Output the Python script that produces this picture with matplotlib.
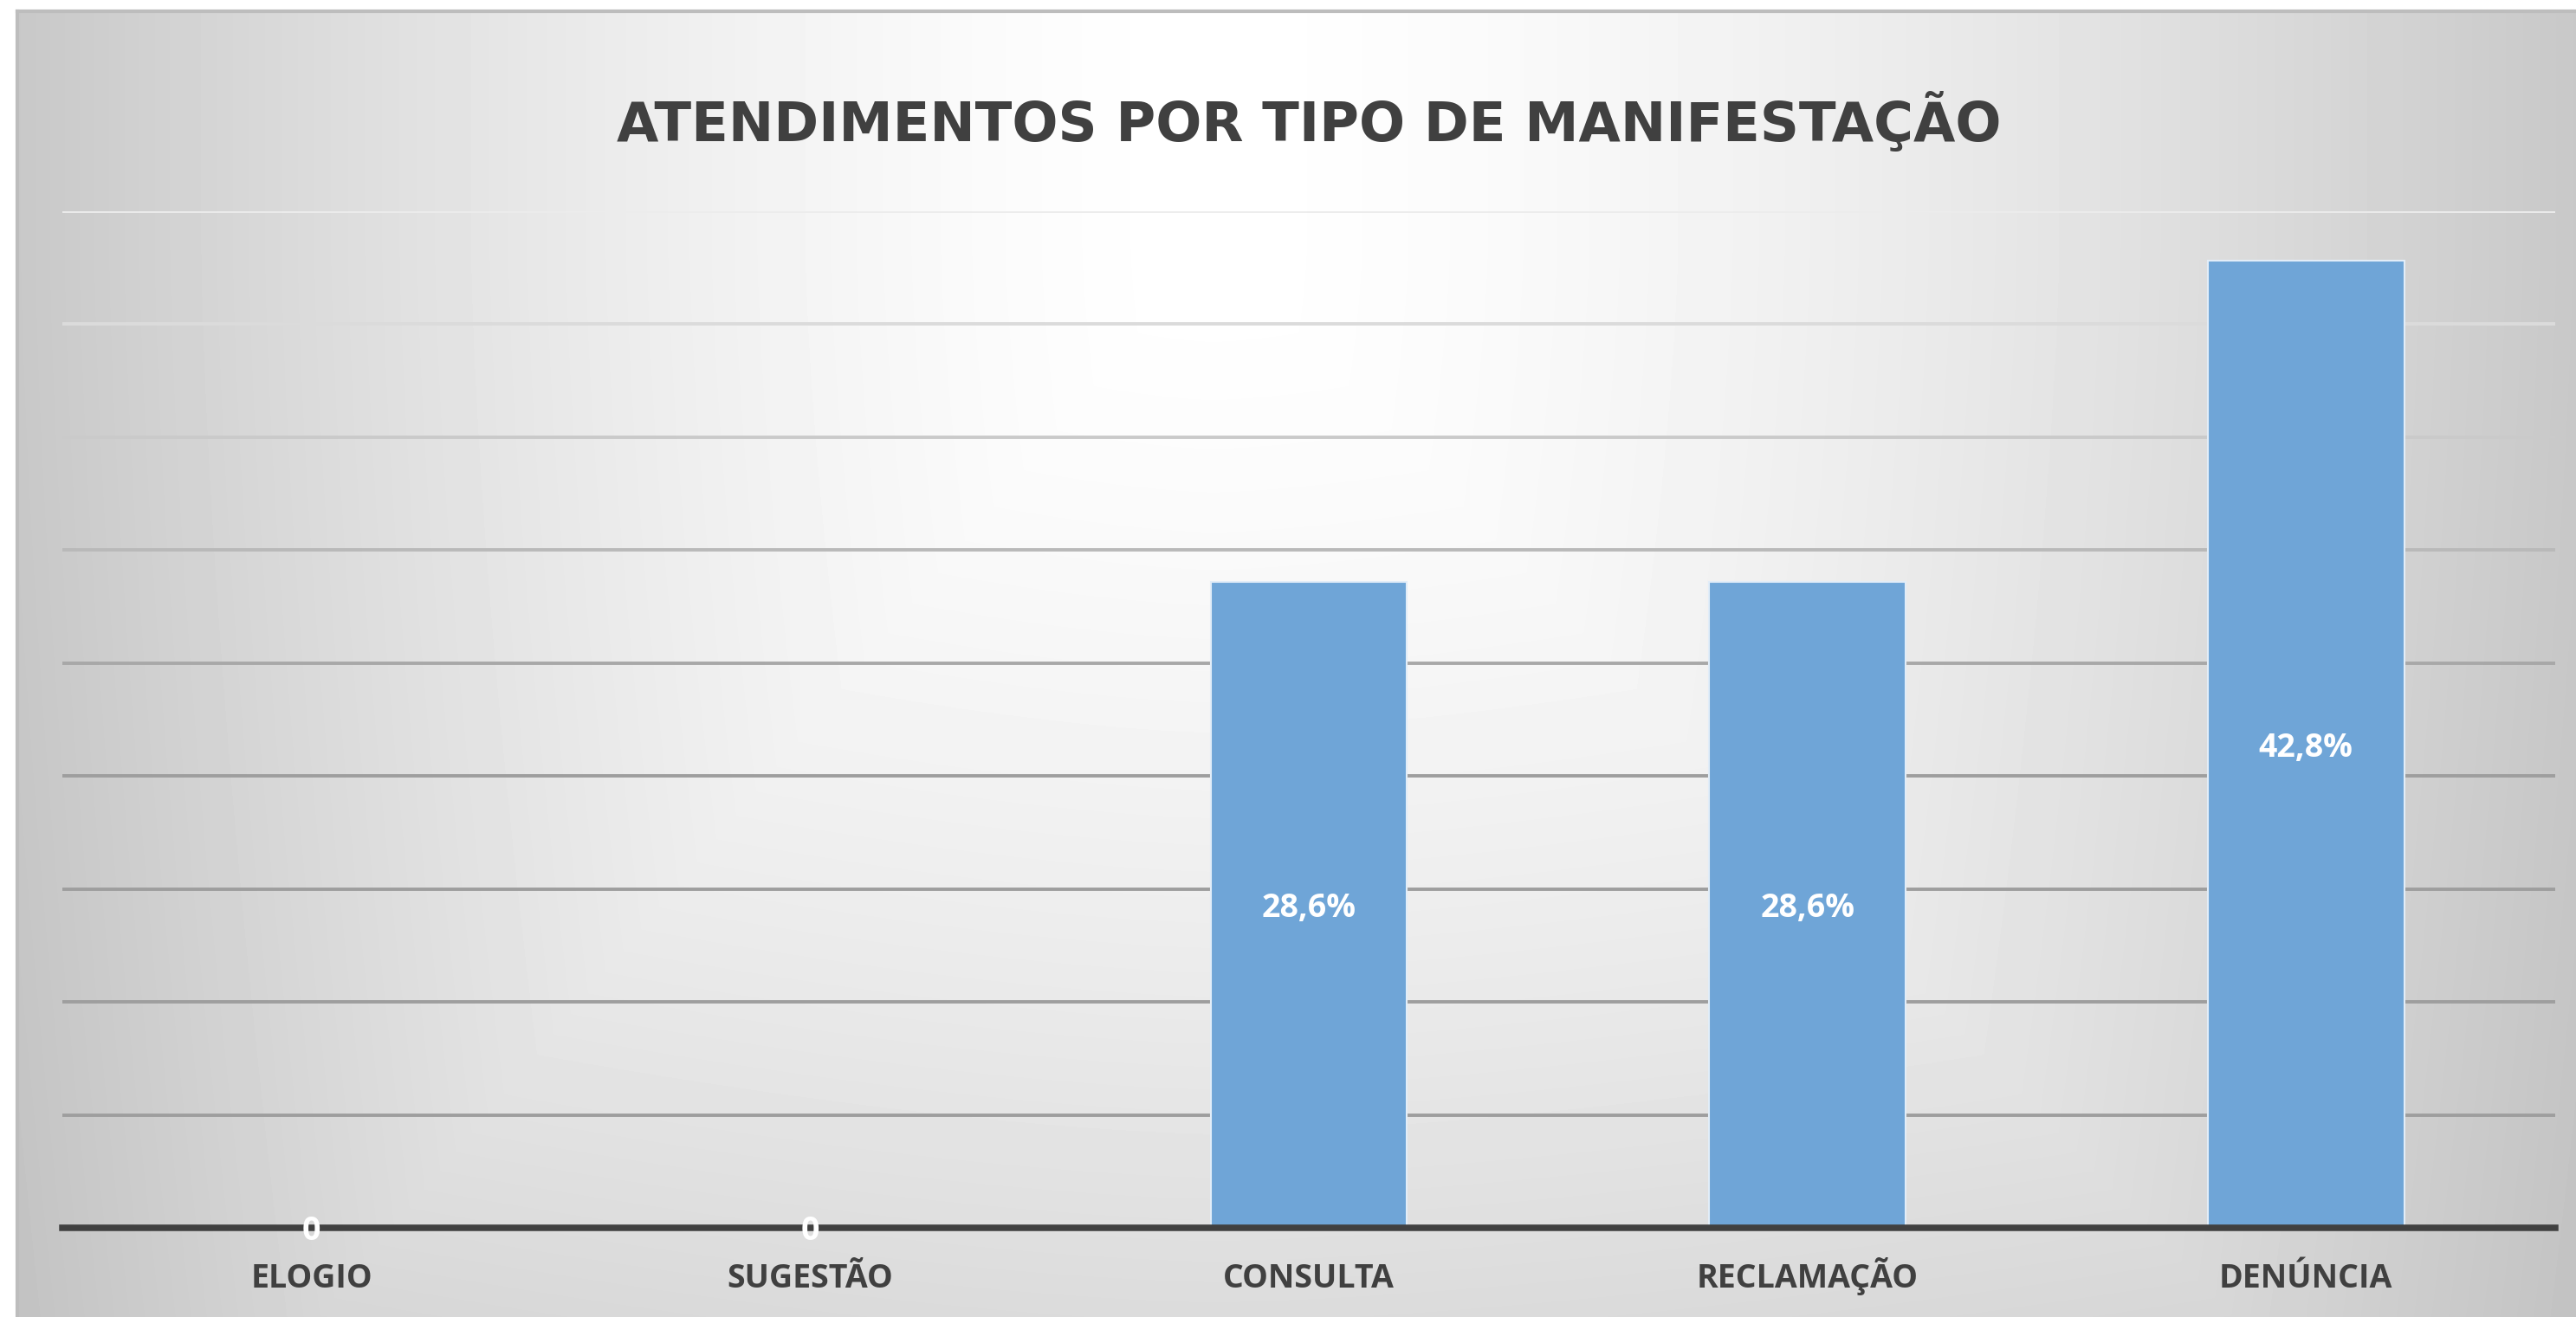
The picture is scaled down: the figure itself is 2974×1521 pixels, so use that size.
import matplotlib
matplotlib.use("Agg")
import matplotlib.pyplot as plt
import numpy as np

# Chart data
categories = ["ELOGIO", "SUGESTÃO", "CONSULTA", "RECLAMAÇÃO", "DENÚNCIA"]
percentages = [0, 0, 28.6, 28.6, 42.8]
y_max = 45
y_step = 5

W, H = 2974, 1521
fig = plt.figure(figsize=(W / 100, H / 100), dpi=100, facecolor="white")

# Gray radial-ish background of the chart frame
frame_left, frame_top = 20, 13
bg_ax = fig.add_axes([frame_left / W, 0, (W - frame_left) / W, (H - frame_top) / H], zorder=-10)
gx = np.arange(frame_left, W)
gy = np.arange(frame_top, H)
xx, yy = np.meshgrid(gx, gy)
cx = 1400
dx = np.where(xx < cx, (cx - xx) / 1380, (xx - cx) / 1574)
dy = np.clip(yy - 280, 0, None) / 1250
h = 55 * dx ** 1.5
v = 36 * dy ** 1.5
drop = np.maximum(h, v) + 0.15 * np.minimum(h, v)
shade = np.clip(255 - drop, 0, 255) / 255
bg_ax.imshow(shade, cmap="gray", vmin=0, vmax=1, aspect="auto", interpolation="bilinear")
bg_ax.set_xticks([])
bg_ax.set_yticks([])
for side in ["right", "bottom"]:
    bg_ax.spines[side].set_visible(False)
for side in ["top", "left"]:
    bg_ax.spines[side].set_color("#bdbdbd")
    bg_ax.spines[side].set_linewidth(3)

# Main plot area
ax_l, ax_r, ax_b, ax_t = 72, 2950, 1418, 244
ax = fig.add_axes([ax_l / W, (H - ax_b) / H, (ax_r - ax_l) / W, (ax_b - ax_t) / H])
ax.set_facecolor("none")

x = np.arange(len(categories))
ax.set_xlim(-0.5, len(categories) - 0.5)
ax.set_ylim(0, y_max)

# gridlines get darker toward the bottom
levels = np.arange(y_step, y_max + 0.1, y_step)
for lv in levels:
    g = max(0.62, 0.66 + (lv - 25) * 0.0133)
    ax.axhline(lv, color=(g, g, g), linewidth=2.8, zorder=1)

bars = ax.bar(x, percentages, width=0.394, color="#6fa5d7",
              edgecolor="#e2edf8", linewidth=1.5, zorder=2)

for xi, val in zip(x, percentages):
    label = "0" if val == 0 else f"{val:.1f}".replace(".", ",") + "%"
    ax.text(xi, val / 2, label, ha="center", va="center_baseline", color="white",
            fontsize=27, fontweight="bold", family=["Open Sans", "DejaVu Sans"], zorder=4)

ax.set_xticks(x)
ax.set_xticklabels(categories, fontsize=27, fontweight="bold", color="#404040",
                   family=["Open Sans", "DejaVu Sans"], va="baseline")
ax.tick_params(axis="x", length=0, pad=50)
ax.set_yticks([])
for side in ["top", "left", "right"]:
    ax.spines[side].set_visible(False)
ax.spines["bottom"].set_color("#404040")
ax.spines["bottom"].set_linewidth(5.4)
ax.spines["bottom"].set_zorder(3)

fig.text(1511 / W, 1 - 163 / H, "ATENDIMENTOS POR TIPO DE MANIFESTAÇÃO",
         ha="center", va="baseline", fontsize=45, fontweight="bold",
         color="#404040", family=["DejaVu Sans"])

fig.savefig("out.png", dpi=100, facecolor="white")
